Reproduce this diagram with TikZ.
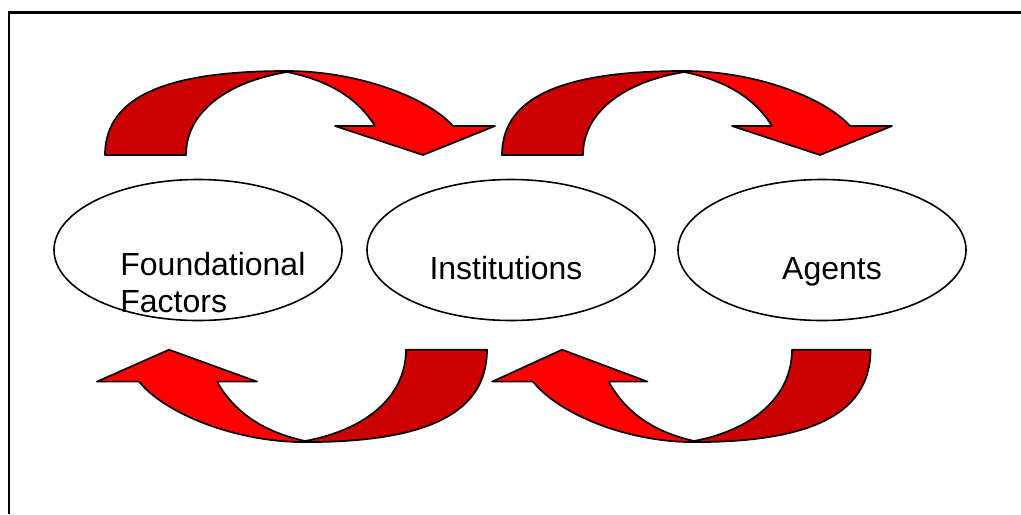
\documentclass[tikz,border=0pt]{standalone}
\usepackage{fontspec}
\setmainfont{Liberation Sans}
\usetikzlibrary{shapes.geometric}
\definecolor{bandback}{HTML}{CC0000}
\definecolor{bandfront}{HTML}{FF0000}
\tikzset{
  factor/.style={draw, ellipse, line width=0.8pt, minimum width=144pt, minimum height=70.5pt, inner sep=0pt},
  caption/.style={inner sep=0pt, font=\fontsize{16}{18.5}\selectfont},
  band/.style={line width=0.85pt, line join=round},
  bentarrow/.pic={
    % back half of the band
    \filldraw[band, fill=bandback] (-182,83) .. controls (-182,20) and (-110,-1) .. (0,-1)
      -- (0,0) .. controls (-60,10) and (-101,40) .. (-101,83) -- cycle;
    % front half of the band with its head
    \filldraw[band, fill=bandfront] (0,-1) .. controls (70,-1) and (140,25) .. (166,54)
      -- (208,54) -- (136,83) -- (48,54) -- (88,54)
      .. controls (70,25) and (40,8) .. (0,0) -- cycle;
  }
}
\begin{document}
\begin{tikzpicture}[x=0.5pt, y=-0.5pt]
\useasboundingbox (0,0) rectangle (1021,514);
% frame
\draw[line width=1.25pt] (9,514) -- (9,12.7) -- (1021,12.7);
% the three factors
\node[factor] (found) at (198,250) {};
\node[factor] (inst) at (511,250) {};
\node[factor] (agents) at (822,250) {};
\node[caption, anchor=west, align=left] (found-text) at (120,283) {Foundational\\Factors};
\node[caption, anchor=base] (inst-text) at (506,279) {Institutions};
\node[caption, anchor=base] (agents-text) at (832,279) {Agents};
% arrows above, left to right
\pic at (287,72) {bentarrow};
\pic at (684,72) {bentarrow};
% arrows below, right to left
\pic[rotate=180, yscale=1.1] at (305,441) {bentarrow};
\pic[rotate=180, xscale=0.97, yscale=1.1] at (694,441) {bentarrow};
\end{tikzpicture}
\end{document}
